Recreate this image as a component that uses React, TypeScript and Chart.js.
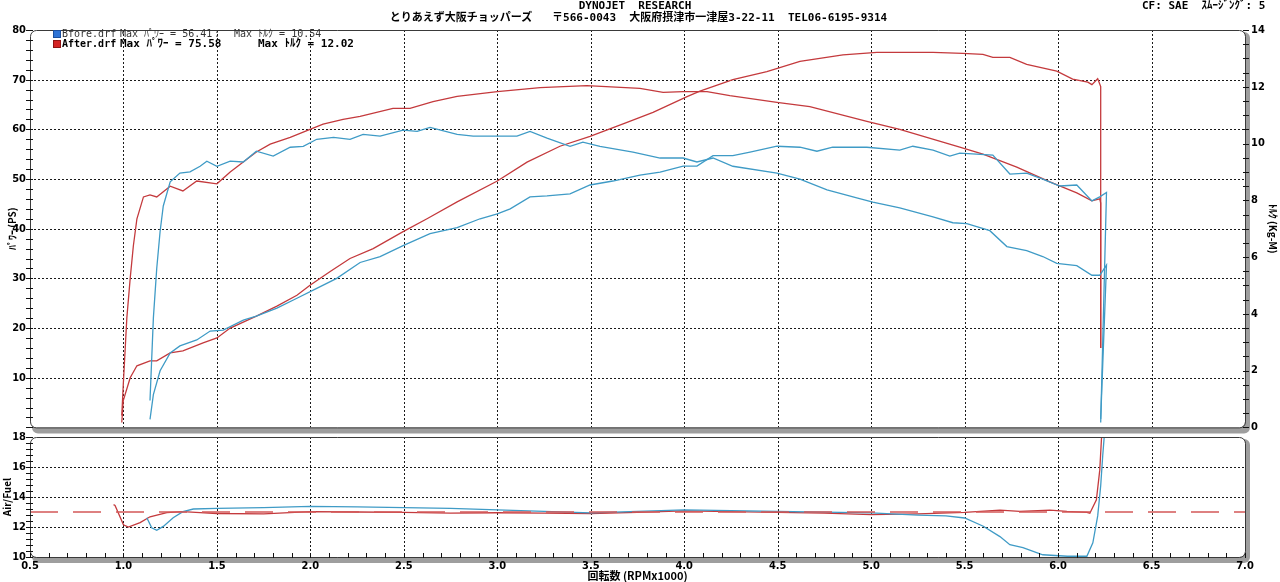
import React, { useEffect, useRef } from 'react';
import { Chart, registerables } from 'chart.js';

Chart.register(...registerables);

// ---------- axis / tick values ----------
const RPM_TICKS = [0.5, 1.0, 1.5, 2.0, 2.5, 3.0, 3.5, 4.0, 4.5, 5.0, 5.5, 6.0, 6.5, 7.0];
const RPM_GRID = [1.0, 1.5, 2.0, 2.5, 3.0, 3.5, 4.0, 4.5, 5.0, 5.5, 6.0, 6.5];
const POWER_TICKS = [0, 10, 20, 30, 40, 50, 60, 70, 80];
const POWER_GRID = [10, 20, 30, 40, 50, 60, 70];
const TORQUE_TICKS = [0, 2, 4, 6, 8, 10, 12, 14];
const AFR_TICKS = [10, 12, 14, 16, 18];
const AFR_GRID = [12, 14, 16];
const AFR_TARGET = 13;

// ---------- After (red) ----------
const afterTorqueRpm = [0.991, 0.999, 1.018, 1.036, 1.053, 1.072, 1.107, 1.142, 1.178, 1.25, 1.318, 1.392, 1.5, 1.571, 1.711, 1.785, 1.892, 1.998, 2.068, 2.175, 2.266, 2.442, 2.533, 2.656, 2.785, 3.0, 3.229, 3.479, 3.763, 3.887, 3.994, 4.122, 4.244, 4.496, 4.672, 4.977, 5.153, 5.474, 5.598, 5.779, 5.956, 6.1, 6.181, 6.223, 6.228, 6.228];
const afterTorque = [0.42, 1.5, 3.85, 5.25, 6.4, 7.35, 8.12, 8.19, 8.12, 8.5, 8.33, 8.68, 8.58, 9.0, 9.7, 9.98, 10.22, 10.5, 10.68, 10.85, 10.96, 11.24, 11.24, 11.48, 11.66, 11.83, 11.97, 12.04, 11.94, 11.8, 11.83, 11.83, 11.69, 11.45, 11.3, 10.78, 10.5, 9.87, 9.63, 9.17, 8.65, 8.26, 7.98, 8.05, 7.9, 2.8];

const afterPowerRpm = [0.991, 0.999, 1.036, 1.072, 1.142, 1.178, 1.25, 1.318, 1.426, 1.5, 1.571, 1.711, 1.821, 1.928, 1.998, 2.106, 2.212, 2.336, 2.496, 2.624, 2.785, 3.0, 3.159, 3.335, 3.496, 3.694, 3.833, 4.015, 4.084, 4.26, 4.442, 4.619, 4.849, 5.031, 5.331, 5.49, 5.598, 5.651, 5.742, 5.832, 5.993, 6.078, 6.159, 6.181, 6.212, 6.228, 6.228];
const afterPower = [1, 5.4, 10, 12.4, 13.4, 13.4, 15, 15.4, 17, 18, 20, 22.4, 24.4, 26.6, 28.6, 31.4, 34, 36, 39.4, 42, 45.4, 49.6, 53.4, 56.6, 58.6, 61.4, 63.4, 66.6, 67.7, 70, 71.6, 73.7, 75, 75.5, 75.5, 75.3, 75.1, 74.5, 74.5, 73.1, 71.7, 70.1, 69.5, 69, 70.2, 68.6, 16];

const afterAfrRpm = [0.947, 0.955, 1.0, 1.026, 1.089, 1.142, 1.232, 1.318, 1.41, 1.5, 1.75, 2.0, 2.25, 2.5, 2.75, 3.0, 3.25, 3.5, 3.75, 4.0, 4.25, 4.5, 4.75, 5.0, 5.25, 5.5, 5.689, 5.795, 5.956, 6.047, 6.154, 6.17, 6.205, 6.223, 6.232, 6.24];
const afterAfr = [13.49, 13.44, 12.15, 12.0, 12.29, 12.68, 12.96, 13.02, 12.96, 12.9, 12.88, 13.02, 13.0, 12.98, 12.93, 12.95, 12.92, 12.9, 12.98, 13.08, 13.03, 12.98, 12.93, 12.83, 12.88, 12.98, 13.12, 13.04, 13.12, 13.04, 12.98, 12.92, 13.82, 15.79, 17.85, 19.0];

// ---------- Before (blue) ----------
const beforeTorqueRpm = [1.142, 1.16, 1.178, 1.196, 1.213, 1.25, 1.302, 1.356, 1.41, 1.446, 1.5, 1.571, 1.641, 1.711, 1.801, 1.892, 1.962, 2.034, 2.124, 2.212, 2.282, 2.373, 2.496, 2.571, 2.64, 2.785, 2.871, 3.0, 3.105, 3.175, 3.266, 3.389, 3.458, 3.549, 3.726, 3.871, 3.994, 4.068, 4.154, 4.26, 4.496, 4.619, 4.764, 4.923, 5.009, 5.153, 5.331, 5.437, 5.512, 5.635, 5.726, 5.832, 5.918, 5.993, 6.1, 6.181, 6.223, 6.259, 6.228];
const beforeTorque = [0.95, 3.85, 5.6, 6.9, 7.8, 8.65, 8.96, 9.0, 9.2, 9.38, 9.2, 9.38, 9.35, 9.73, 9.56, 9.87, 9.9, 10.15, 10.22, 10.15, 10.32, 10.26, 10.47, 10.43, 10.57, 10.32, 10.26, 10.26, 10.26, 10.43, 10.19, 9.9, 10.05, 9.9, 9.7, 9.49, 9.49, 9.35, 9.49, 9.2, 8.96, 8.75, 8.37, 8.09, 7.94, 7.73, 7.42, 7.21, 7.18, 6.93, 6.37, 6.23, 6.02, 5.78, 5.7, 5.36, 5.36, 5.72, 0.3];

const beforePowerRpm = [1.142, 1.16, 1.196, 1.25, 1.302, 1.392, 1.464, 1.534, 1.641, 1.711, 1.821, 1.928, 2.034, 2.141, 2.266, 2.373, 2.496, 2.64, 2.785, 2.908, 3.0, 3.069, 3.175, 3.266, 3.389, 3.496, 3.618, 3.763, 3.871, 3.994, 4.068, 4.154, 4.26, 4.352, 4.496, 4.619, 4.71, 4.794, 4.977, 5.153, 5.223, 5.331, 5.421, 5.474, 5.651, 5.742, 5.832, 5.918, 6.009, 6.1, 6.181, 6.223, 6.259, 6.228];
const beforePower = [1.6, 6.6, 11.4, 15, 16.4, 17.6, 19.4, 19.6, 21.6, 22.4, 24, 26, 28, 30, 33.2, 34.4, 36.6, 39, 40.2, 42, 43, 44, 46.4, 46.6, 47, 48.8, 49.6, 50.8, 51.4, 52.6, 52.6, 54.7, 54.7, 55.4, 56.6, 56.4, 55.6, 56.4, 56.4, 55.8, 56.6, 55.8, 54.6, 55.2, 54.8, 51, 51.2, 50, 48.6, 48.8, 45.6, 46.4, 47.3, 1];

const beforeAfrRpm = [1.125, 1.151, 1.178, 1.213, 1.266, 1.318, 1.374, 1.5, 1.75, 2.0, 2.25, 2.5, 2.75, 3.0, 3.25, 3.5, 3.75, 4.0, 4.25, 4.5, 4.75, 5.0, 5.25, 5.4, 5.5, 5.6, 5.689, 5.742, 5.812, 5.918, 6.05, 6.154, 6.186, 6.212, 6.228, 6.239, 6.25];
const beforeAfr = [12.62, 11.95, 11.78, 12.04, 12.62, 13.02, 13.2, 13.24, 13.29, 13.38, 13.34, 13.29, 13.24, 13.14, 13.04, 12.94, 13.04, 13.14, 13.09, 13.04, 12.99, 12.94, 12.79, 12.74, 12.6, 12.05, 11.36, 10.82, 10.62, 10.15, 10.05, 10.05, 10.95, 12.74, 14.75, 16.78, 18.5];

const RED = '#c43a3d';
const BLUE = '#3f9bc6';
const TICK_FONT = "'Liberation Sans Narrow', 'DejaVu Sans Condensed', 'DejaVu Sans', sans-serif";
const MONO = "'DejaVu Sans Mono', 'Noto Sans CJK JP', monospace";
const JP = "'Noto Sans CJK JP', 'DejaVu Sans', sans-serif";

const pts = (xs: number[], ys: number[]) => xs.map((x, i) => ({ x, y: ys[i] }));

function roundRect(ctx: CanvasRenderingContext2D, x: number, y: number, w: number, h: number, r: number) {
  ctx.beginPath();
  ctx.moveTo(x + r, y);
  ctx.arcTo(x + w, y, x + w, y + h, r);
  ctx.arcTo(x + w, y + h, x, y + h, r);
  ctx.arcTo(x, y + h, x, y, r);
  ctx.arcTo(x, y, x + w, y, r);
  ctx.closePath();
}

function framePlugin(cfg: any) {
  return {
    id: 'frame',
    beforeDraw(chart: any) {
      const { ctx, chartArea: a } = chart;
      const w = a.right - a.left;
      const h = a.bottom - a.top;
      ctx.save();
      ctx.fillStyle = '#9e9e9e';
      roundRect(ctx, a.left + 2, a.top + 2, w + 3, h + 4, 6);
      ctx.fill();
      ctx.fillStyle = '#ffffff';
      roundRect(ctx, a.left, a.top, w, h, 6);
      ctx.fill();
      ctx.strokeStyle = '#1a1a1a';
      ctx.lineWidth = 1;
      ctx.setLineDash([2, 2]);
      const xs = chart.scales.x;
      const ys = chart.scales[cfg.yId];
      ctx.beginPath();
      cfg.gridX.forEach((v: number) => {
        const p = Math.round(xs.getPixelForValue(v)) + 0.5;
        ctx.moveTo(p, a.top);
        ctx.lineTo(p, a.bottom);
      });
      cfg.gridY.forEach((v: number) => {
        const p = Math.round(ys.getPixelForValue(v)) + 0.5;
        ctx.moveTo(a.left, p);
        ctx.lineTo(a.right, p);
      });
      ctx.stroke();
      ctx.restore();
    },
    afterDraw(chart: any) {
      const { ctx, chartArea: a } = chart;
      ctx.save();
      ctx.strokeStyle = '#3a3a3a';
      ctx.lineWidth = 1;
      roundRect(ctx, a.left + 0.5, a.top + 0.5, a.right - a.left, a.bottom - a.top, 6);
      ctx.stroke();
      ctx.strokeStyle = '#111';
      ctx.beginPath();
      cfg.marks.forEach((m: any) => {
        const s = chart.scales[m.id];
        const n = Math.round((m.max - m.min) / m.step);
        for (let i = 0; i <= n; i++) {
          const p = Math.round(s.getPixelForValue(m.min + i * m.step)) + 0.5;
          if (m.side === 'left') {
            ctx.moveTo(a.left - 4, p);
            ctx.lineTo(a.left + 3, p);
          } else if (m.side === 'right') {
            ctx.moveTo(a.right - 2, p);
            ctx.lineTo(a.right + 4, p);
          } else {
            ctx.moveTo(p, a.bottom - 4);
            ctx.lineTo(p, a.bottom + 1);
          }
        }
      });
      ctx.stroke();
      ctx.restore();
    },
  };
}

const lineDs = (label: string, data: any[], color: string, yAxisID: string, extra: any = {}) => ({
  label,
  data,
  borderColor: color,
  backgroundColor: color,
  borderWidth: 1.3,
  pointRadius: 0,
  tension: 0,
  fill: false,
  yAxisID,
  ...extra,
});

const tickFont = { family: TICK_FONT, size: 11, weight: 'bold' as const };

export default function App() {
  const topRef = useRef<HTMLCanvasElement>(null);
  const botRef = useRef<HTMLCanvasElement>(null);

  useEffect(() => {
    const top = new Chart(topRef.current as HTMLCanvasElement, {
      type: 'line',
      data: {
        datasets: [
          lineDs('Bfore パワー', pts(beforePowerRpm, beforePower), BLUE, 'yP'),
          lineDs('Bfore トルク', pts(beforeTorqueRpm, beforeTorque), BLUE, 'yT'),
          lineDs('After パワー', pts(afterPowerRpm, afterPower), RED, 'yP'),
          lineDs('After トルク', pts(afterTorqueRpm, afterTorque), RED, 'yT'),
        ],
      },
      options: {
        animation: false,
        responsive: false,
        devicePixelRatio: 1,
        layout: { padding: { top: 30, bottom: 10, left: 0, right: 0 } },
        plugins: { legend: { display: false }, tooltip: { enabled: false } },
        scales: {
          x: { type: 'linear', min: 0.5, max: 7, display: false },
          yP: {
            position: 'left',
            min: 0,
            max: 80,
            afterBuildTicks: (s: any) => { s.ticks = POWER_TICKS.map((v) => ({ value: v })); },
            ticks: { callback: (v: any) => (v === 0 ? '' : String(v)), font: tickFont, color: '#000', padding: 4 },
            grid: { display: false, drawTicks: false },
            border: { display: false },
            title: { display: true, text: 'ﾊﾟﾜｰ (PS)', color: '#000', font: { family: JP, size: 10, weight: 'bold' }, padding: { top: 6, bottom: 0 } },
            afterFit: (s: any) => { s.width = 30; },
          },
          yT: {
            position: 'right',
            min: 0,
            max: 14,
            afterBuildTicks: (s: any) => { s.ticks = TORQUE_TICKS.map((v) => ({ value: v })); },
            ticks: { font: tickFont, color: '#000', padding: 6 },
            grid: { display: false, drawTicks: false },
            border: { display: false },
            title: { display: true, text: 'ﾄﾙｸ (Kg-M)', color: '#000', font: { family: JP, size: 10, weight: 'bold' }, padding: { top: 1, bottom: 0 } },
            afterFit: (s: any) => { s.width = 35; },
          },
        },
      } as any,
      plugins: [
        framePlugin({
          yId: 'yP',
          gridX: RPM_GRID,
          gridY: POWER_GRID,
          marks: [
            { id: 'yP', min: 0, max: 80, step: 2, side: 'left' },
            { id: 'yT', min: 0, max: 14, step: 0.5, side: 'right' },
          ],
        }),
      ],
    });

    const bot = new Chart(botRef.current as HTMLCanvasElement, {
      type: 'line',
      data: {
        datasets: [
          lineDs('A/F 目標', [{ x: RPM_TICKS[0], y: AFR_TARGET }, { x: RPM_TICKS[RPM_TICKS.length - 1], y: AFR_TARGET }], '#d45858', 'yA', { borderDash: [28, 15] }),
          lineDs('Bfore A/F', pts(beforeAfrRpm, beforeAfr), BLUE, 'yA'),
          lineDs('After A/F', pts(afterAfrRpm, afterAfr), RED, 'yA'),
        ],
      },
      options: {
        animation: false,
        responsive: false,
        devicePixelRatio: 1,
        layout: { padding: { top: 12, bottom: 0, left: 0, right: 35 } },
        plugins: { legend: { display: false }, tooltip: { enabled: false } },
        scales: {
          x: {
            type: 'linear',
            min: 0.5,
            max: 7,
            afterBuildTicks: (s: any) => { s.ticks = RPM_TICKS.map((v) => ({ value: v })); },
            ticks: { callback: (v: any) => Number(v).toFixed(1), font: tickFont, color: '#000', padding: 3, maxRotation: 0, autoSkip: false },
            grid: { display: false, drawTicks: false },
            border: { display: false },
            title: { display: true, text: '回転数 (RPMx1000)', color: '#000', font: { family: JP, size: 11, weight: 'bold' }, padding: { top: 0, bottom: 0 } },
            afterFit: (s: any) => { s.height = 25; },
          },
          yA: {
            position: 'left',
            min: 10,
            max: 18,
            afterBuildTicks: (s: any) => { s.ticks = AFR_TICKS.map((v) => ({ value: v })); },
            ticks: { font: tickFont, color: '#000', padding: 4 },
            grid: { display: false, drawTicks: false },
            border: { display: false },
            title: { display: true, text: 'Air/Fuel', color: '#000', font: { family: JP, size: 10, weight: 'bold' }, padding: { top: 1, bottom: 0 } },
            afterFit: (s: any) => { s.width = 30; },
          },
        },
      } as any,
      plugins: [
        framePlugin({
          yId: 'yA',
          gridX: RPM_GRID,
          gridY: AFR_GRID,
          marks: [
            { id: 'yA', min: 10, max: 18, step: 0.4, side: 'left' },
            { id: 'x', min: 0.5, max: 7, step: 0.1, side: 'bottom' },
          ],
        }),
      ],
    });

    return () => {
      top.destroy();
      bot.destroy();
    };
  }, []);

  const abs = (s: any): React.CSSProperties => ({
    position: 'absolute',
    whiteSpace: 'pre',
    fontFamily: MONO,
    fontWeight: 'bold',
    fontSize: 11,
    lineHeight: '12px',
    color: '#000',
    ...s,
  });

  const l1 = { top: 28, fontWeight: 'normal', fontSize: 10, color: '#333' };
  const l2 = { top: 38, fontSize: 10 };

  return (
    <div style={{ position: 'fixed', left: 0, top: 0, width: 1280, height: 582, background: '#fff', overflow: 'hidden' }}>
      <canvas ref={topRef} width={1280} height={440} style={{ position: 'absolute', left: 0, top: 0 }} />
      <canvas ref={botRef} width={1280} height={157} style={{ position: 'absolute', left: 0, top: 425 }} />

      <div style={abs({ left: 0, width: 1270, top: 0, textAlign: 'center' })}>DYNOJET  RESEARCH</div>
      <div style={abs({ left: 0, width: 1277, top: 12, textAlign: 'center' })}>とりあえず大阪チョッパーズ   〒566-0043  大阪府摂津市一津屋3-22-11  TEL06-6195-9314</div>
      <div style={abs({ left: 1142, top: 0 })}>CF: SAE  ｽﾑｰｼﾞﾝｸﾞ: 5</div>

      <div style={{ position: 'absolute', left: 53, top: 30, width: 6, height: 6, background: '#2f74d6', border: '1px solid #1b4f9e' }} />
      <div style={abs({ left: 62, ...l1 })}>Bfore.drf</div>
      <div style={abs({ left: 120, ...l1 })}>Max ﾊﾟﾜｰ = 56.41</div>
      <div style={abs({ left: 214, ...l1 })}>:</div>
      <div style={abs({ left: 234, ...l1 })}>Max ﾄﾙｸ = 10.54</div>

      <div style={{ position: 'absolute', left: 53, top: 40, width: 6, height: 6, background: '#d42424', border: '1px solid #8e1414' }} />
      <div style={abs({ left: 62, ...l2 })}>After.drf</div>
      <div style={abs({ left: 120, ...l2, fontSize: 11 })}>Max ﾊﾟﾜｰ = 75.58</div>
      <div style={abs({ left: 258, ...l2, fontSize: 11 })}>Max ﾄﾙｸ = 12.02</div>
    </div>
  );
}
